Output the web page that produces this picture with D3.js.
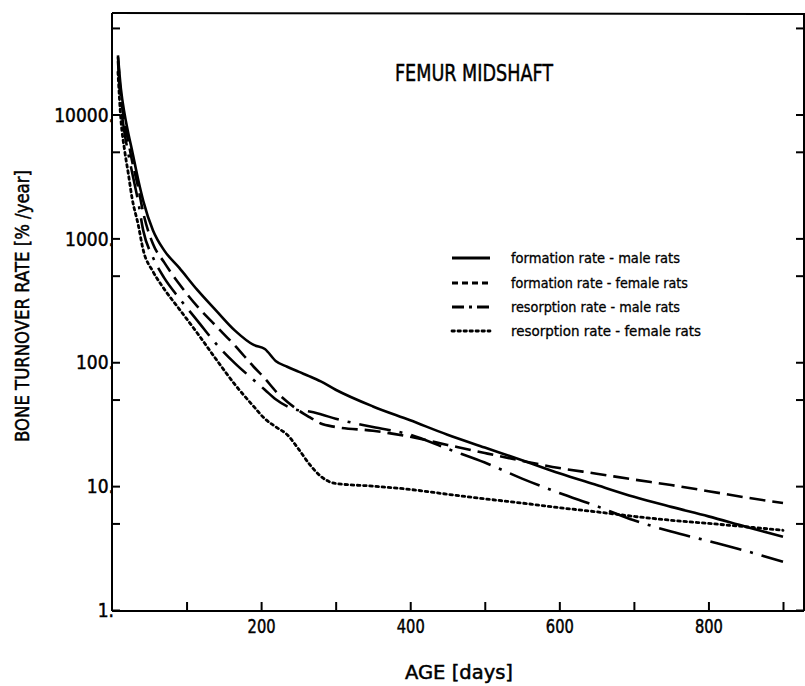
<!DOCTYPE html>
<html><head><meta charset="utf-8">
<script src="https://cdn.jsdelivr.net/npm/d3@7/dist/d3.min.js"></script>
<style>
html,body{margin:0;padding:0;background:#fff;}
svg{display:block;}
text{font-family:"DejaVu Sans Condensed","Liberation Sans Narrow","Arial Narrow",sans-serif;fill:#000;stroke:#000;stroke-width:0.45px;}
</style></head>
<body><svg id="chart" width="805" height="686"></svg>
<script>
// ---- data ----
const days = [8, 12, 17, 22, 27, 35, 42, 55, 70, 90, 115, 140, 165, 190, 205, 220, 235, 250, 265, 280, 300, 350, 400, 450, 500, 550, 600, 650, 700, 750, 800, 850, 900];
const formationMale   = [30000,16000,10000,7000,5100,3000,2000,1160,800,580,380,260,180,138,128,102,92,84,77,70,60,44,34,26,20.5,16.2,12.7,10.2,8.2,6.8,5.7,4.7,3.9];
const formationFemale = [29000,14000,8500,6000,4200,2600,1600,900,640,430,280,195,136,92,74,58,48,41,36,32,30,28,25,21.5,18.5,16,14,12.6,11.3,10.2,9.1,8.1,7.3];
const resorptionMale  = [27000,12000,7000,4800,3400,2000,1150,700,480,330,215,140,98,72,60,50,44,41,40,38,35,30,26,20,15.5,11.5,8.8,6.9,5.3,4.3,3.6,3.0,2.45];
const resorptionFemale= [22000,9000,5100,3300,2100,1300,800,540,390,270,170,105,66,44,35,30,26,20,15,12,10.5,10,9.4,8.6,7.9,7.3,6.7,6.2,5.7,5.3,5.0,4.7,4.4];
const seriesNames = ["formation rate - male rats","formation rate - female rats","resorption rate - male rats","resorption rate - female rats"];
const xMajorTicks = [200, 400, 600, 800];
const xMinorTicks = [100, 300, 500, 700, 900];
const yMajorTicks = [1, 10, 100, 1000, 10000];
const yMajorLabels = ["1.", "10.", "100.", "1000.", "10000."];
const yMinorTicks = [5, 50, 500, 5000, 50000];
const titleText = "FEMUR MIDSHAFT";
const xTitle = "AGE  [days]";
const yTitle = "BONE TURNOVER RATE  [% /year]";

// ---- layout ----
const svg = d3.select("#chart");
const L = 112, R = 804, T = 13, B = 611;
const x = d3.scaleLinear().domain([0, 900]).range([L, 783]);
const y = d3.scaleLog().domain([1, 66000]).range([610, T]);

const dashes = [null, "16,7", "32,9,3,9", "2.6,3.6"];
const allSeries = [formationMale, formationFemale, resorptionMale, resorptionFemale];

// frame
const frame = svg.append("g").attr("stroke","#000").attr("stroke-width",2).attr("fill","none");
frame.append("line").attr("x1",L).attr("y1",T).attr("x2",R+1).attr("y2",T+1);
frame.append("line").attr("x1",R).attr("y1",T).attr("x2",R).attr("y2",B);

// bottom axis
const xAxis = d3.axisBottom(x).tickValues(xMajorTicks.concat(xMinorTicks)).tickSizeInner(-9).tickSizeOuter(0)
  .tickFormat(d => xMajorTicks.includes(d) ? String(d) : "");
const gx = svg.append("g").attr("transform",`translate(0,${B})`).call(xAxis);
gx.select(".domain").attr("d",`M${L},0H${R}`).attr("stroke-width",2);
gx.selectAll(".tick line").attr("stroke-width",2);
gx.selectAll(".tick text").attr("font-size",19).attr("dy","0.95em").attr("y",4)
  .attr("textLength",28).attr("lengthAdjust","spacingAndGlyphs");

// left axis
const yAxis = d3.axisLeft(y).tickValues(yMajorTicks.concat(yMinorTicks)).tickSizeInner(-8).tickSizeOuter(0)
  .tickFormat(d => { const i = yMajorTicks.indexOf(d); return i >= 0 ? yMajorLabels[i] : ""; });
const gy = svg.append("g").attr("transform",`translate(${L},0)`).call(yAxis);
gy.select(".domain").attr("d",`M0,${T}V${B}`).attr("stroke-width",2);
gy.selectAll(".tick line").attr("stroke-width",2);
gy.selectAll(".tick text").attr("font-size",19).attr("x",2).attr("dy","0.35em");

// right axis ticks
const yAxisR = d3.axisRight(y).tickValues(yMajorTicks.concat(yMinorTicks)).tickSizeInner(-8).tickSizeOuter(0).tickFormat("");
const gyr = svg.append("g").attr("transform",`translate(${R},0)`).call(yAxisR);
gyr.select(".domain").remove();
gyr.selectAll(".tick line").attr("stroke-width",2);

// curves
const line = d3.line().x((d,i) => x(days[i])).y(d => y(d)).curve(d3.curveMonotoneX);
allSeries.forEach((s, k) => {
  svg.append("path").datum(s).attr("d", line)
    .attr("fill","none").attr("stroke","#000").attr("stroke-width", k === 3 ? 2.8 : 2.6)
    .attr("stroke-linecap", k === 3 ? "round" : "butt")
    .attr("stroke-dasharray", dashes[k]);
});

// title
svg.append("text").attr("x",395).attr("y",81).attr("font-size",23)
  .attr("textLength",158).attr("lengthAdjust","spacingAndGlyphs").text(titleText);

// legend
const legRows = [258, 283, 307, 331];
const legEnds = [680, 688, 680, 701];
const legDash = [null, "6,4", "12,5,3,5", "2.4,3.6"];
seriesNames.forEach((n, k) => {
  svg.append("line").attr("x1",452).attr("x2",490).attr("y1",legRows[k]).attr("y2",legRows[k])
    .attr("stroke","#000").attr("stroke-width", k === 3 ? 2.8 : 3)
    .attr("stroke-linecap", k === 3 ? "round" : "butt")
    .attr("stroke-dasharray", legDash[k]);
  svg.append("text").attr("x",511).attr("y",legRows[k]).attr("dy","0.35em").attr("font-size",14.5)
    .style("stroke-width","0.3px")
    .attr("textLength", legEnds[k]-511).attr("lengthAdjust","spacingAndGlyphs").text(n);
});

// axis titles
svg.append("text").attr("x",459).attr("y",679).attr("text-anchor","middle").attr("font-size",20)
  .attr("textLength",108).attr("lengthAdjust","spacingAndGlyphs").text(xTitle);
svg.append("text").attr("transform","translate(29,306) rotate(-90)").attr("text-anchor","middle")
  .attr("font-size",19).attr("textLength",272).attr("lengthAdjust","spacingAndGlyphs").text(yTitle);
</script></body></html>
